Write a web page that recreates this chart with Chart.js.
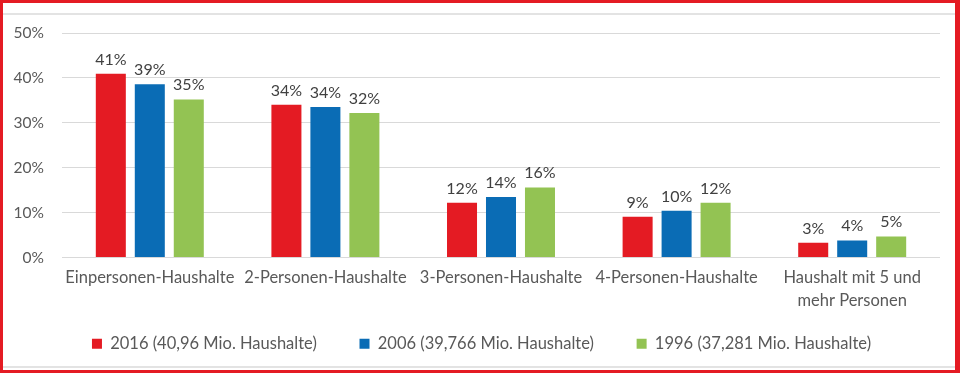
<!DOCTYPE html>
<html>
<head>
<meta charset="utf-8">
<script src="https://cdn.jsdelivr.net/npm/chart.js@4.4.1/dist/chart.umd.min.js"></script>
<style>
  html, body { margin: 0; padding: 0; background: #fff; }
  #wrap { position: relative; width: 960px; height: 373px; box-sizing: border-box; overflow: hidden; }
  #frame { position: absolute; left: 0; top: 0; width: 960px; height: 373px; box-sizing: border-box;
           border-left: 3px solid #e41b23; border-top: 3px solid #e41b23; border-right: 5px solid #e41b23; border-bottom: 3px solid #e41b23; pointer-events: none; }
  #innerTop { position: absolute; left: 3px; right: 5px; top: 13px; height: 2px; background: #e3e3e3; }
  #innerBot { position: absolute; left: 3px; right: 5px; top: 366px; height: 2px; background: #e3e3e3; }
  canvas { position: absolute; left: 0; top: 0; }
</style>
</head>
<body>
<div id="wrap">
  <div id="innerTop"></div>
  <div id="innerBot"></div>
  <canvas id="c" width="960" height="373"></canvas>
  <div id="frame"></div>
</div>
<script>
const categories = [
  'Einpersonen-Haushalte',
  '2-Personen-Haushalte',
  '3-Personen-Haushalte',
  '4-Personen-Haushalte',
  ['Haushalt mit 5 und', 'mehr Personen']
];
const seriesNames = [
  '2016 (40,96 Mio. Haushalte)',
  '2006 (39,766 Mio. Haushalte)',
  '1996 (37,281 Mio. Haushalte)'
];
const values2016 = [40.9, 34.0, 12.2, 9.1, 3.3];
const values2006 = [38.6, 33.5, 13.5, 10.4, 3.8];
const values1996 = [35.2, 32.2, 15.6, 12.2, 4.7];
const yTicks = [0, 10, 20, 30, 40, 50];

const colors = ['#e41b23', '#0a6cb5', '#93c353'];
const FONT = 'Lato, "Noto Sans", sans-serif';
const textColor = '#595959';

const dataLabels = {
  id: 'dataLabels',
  afterDatasetsDraw(chart) {
    const ctx = chart.ctx;
    ctx.save();
    ctx.font = '16px ' + FONT;
    ctx.fillStyle = '#404040';
    ctx.textAlign = 'center';
    ctx.textBaseline = 'alphabetic';
    chart.data.datasets.forEach((ds, i) => {
      const meta = chart.getDatasetMeta(i);
      meta.data.forEach((el, j) => {
        ctx.fillText(Math.round(ds.data[j]) + '%', el.x, el.y - 9);
      });
    });
    ctx.restore();
  }
};

const defaultLabels = Chart.defaults.plugins.legend.labels.generateLabels;

new Chart(document.getElementById('c'), {
  type: 'bar',
  data: {
    labels: categories,
    datasets: [
      { label: seriesNames[0], data: values2016, backgroundColor: colors[0] },
      { label: seriesNames[1], data: values2006, backgroundColor: colors[1] },
      { label: seriesNames[2], data: values1996, backgroundColor: colors[2] }
    ]
  },
  options: {
    responsive: false,
    animation: false,
    devicePixelRatio: 1,
    layout: { padding: { left: 3, right: 0, top: 33, bottom: 11 } },
    datasets: { bar: { categoryPercentage: 0.666, barPercentage: 0.77 } },
    scales: {
      y: {
        min: 0, max: 50,
        afterBuildTicks: s => { s.ticks = yTicks.map(v => ({ value: v })); },
        afterFit: s => { s.width = 59; },
        border: { display: false },
        grid: { color: '#d9d9d9', lineWidth: 1, drawTicks: false },
        ticks: {
          padding: 18,
          color: textColor,
          font: { family: FONT, size: 15.5 },
          callback: v => v + '%'
        }
      },
      yR: {
        position: 'right',
        display: true,
        afterFit: s => { s.width = 20; },
        border: { display: false },
        grid: { display: false, drawTicks: false },
        ticks: { display: false }
      },
      x: {
        border: { display: false },
        grid: { display: false, drawTicks: false },
        afterFit: s => { s.height = 52; },
        ticks: {
          padding: 9,
          color: textColor,
          font: { family: FONT, size: 16.5, lineHeight: 1.4 },
          maxRotation: 0,
          autoSkip: false
        }
      }
    },
    plugins: {
      tooltip: { enabled: false },
      legend: {
        position: 'bottom',
        labels: {
          color: textColor,
          font: { family: FONT, size: 16.5 },
          boxWidth: 10,
          boxHeight: 10,
          padding: 26,
          generateLabels: chart => defaultLabels(chart).map((l, i, arr) => {
            if (i < arr.length - 1) l.text = l.text + '\u2002  ';
            return l;
          })
        }
      }
    }
  },
  plugins: [dataLabels]
});
</script>
</body>
</html>
